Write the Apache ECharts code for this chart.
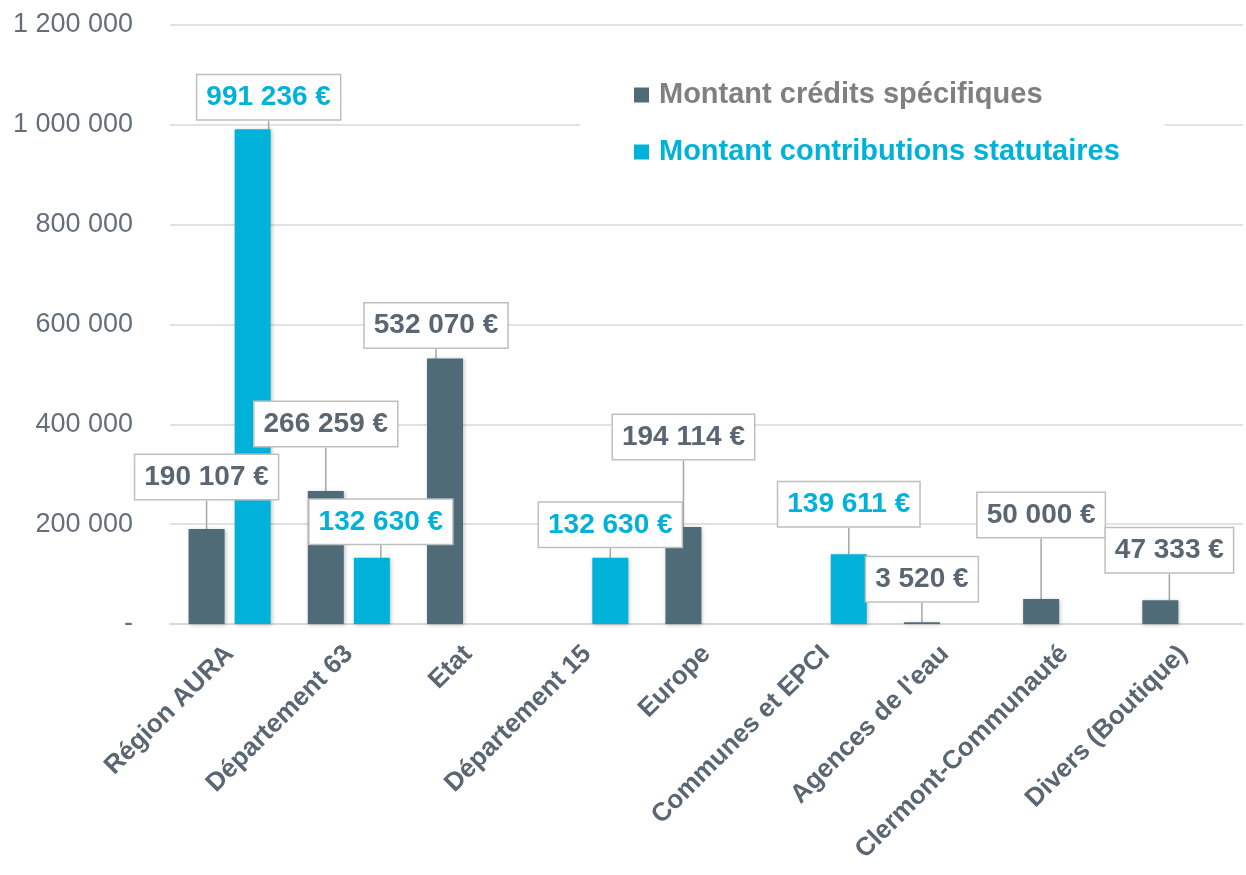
<!DOCTYPE html>
<html>
<head>
<meta charset="utf-8">
<script src="https://cdn.jsdelivr.net/npm/echarts@6/dist/echarts.min.js"></script>
<style>
  html, body { margin: 0; padding: 0; background: #fff; }
  #main { width: 1246px; height: 875px; }
</style>
</head>
<body>
<div id="main"></div>
<script>
var categories = ['Région AURA', 'Département 63', 'Etat', 'Département 15', 'Europe',
	'Communes et EPCI', "Agences de l'eau", 'Clermont-Communauté', 'Divers (Boutique)'];
var creditsSpecifiques = [190107, 266259, 532070, null, 194114, null, 3520, 50000, 47333];
var contributionsStatutaires = [991236, 132630, null, 132630, null, 139611, null, null, null];
var yTicks = [0, 200000, 400000, 600000, 800000, 1000000, 1200000];

// callout offsets (dx, dy) from the top of each bar
var creditsShift = [[0, -30], [0, -45], [-9, -11], null, [0, -68], null, [0, -21], [0, -62], [9, -28]];
var contribShift = [[16, -10], [9, -14], null, [0, -11], null, [0, -28], null, null, null];

var darkColor = '#4f6b78';
var cyanColor = '#00b2da';
var font = '"Liberation Sans", Arial, sans-serif';

function spaced(v) {
	return String(v).replace(/\B(?=(\d{3})+(?!\d))/g, ' ');
}

function makeLabel(color) {
	return {
		show: true,
		position: 'top',
		distance: 0,
		formatter: function (p) { return spaced(p.value) + ' €'; },
		color: color,
		fontFamily: font,
		fontWeight: 'bold',
		fontSize: 28,
		lineHeight: 30,
		backgroundColor: '#fff',
		borderColor: '#bfbfbf',
		borderWidth: 1.5,
		padding: [7, 9]
	};
}

function shiftFn(shifts) {
	return function (params) {
		var s = shifts[params.dataIndex] || [0, 0];
		return { dx: s[0], dy: s[1] };
	};
}

var dom = document.getElementById('main');
var myChart = echarts.init(dom);
var option = {
	backgroundColor: '#fff',
	animation: false,
	grid: {
		left: 170,
		right: 3,
		top: 25,
		bottom: 251,
		outerBoundsMode: 'none'
	},
	legend: {
		orient: 'vertical',
		left: 580,
		top: 60,
		padding: [20, 45, 20, 54],
		backgroundColor: '#fff',
		itemWidth: 15,
		itemHeight: 15,
		itemGap: 27,
		icon: 'rect',
		textStyle: {
			fontFamily: font,
			fontWeight: 'bold',
			fontSize: 29,
			lineHeight: 30,
			padding: [0, 0, 0, 5]
		},
		data: [
			{ name: 'Montant crédits spécifiques', textStyle: { color: '#808080' } },
			{ name: 'Montant contributions statutaires', textStyle: { color: cyanColor } }
		]
	},
	xAxis: {
		type: 'category',
		data: categories,
		axisTick: { show: false },
		axisLine: { lineStyle: { color: '#d9d9d9', width: 2 } },
		axisLabel: {
			interval: 0,
			rotate: 45,
			margin: 26,
			color: '#5b6673',
			fontFamily: font,
			fontWeight: 'bold',
			fontSize: 26
		}
	},
	yAxis: {
		type: 'value',
		min: yTicks[0],
		max: yTicks[yTicks.length - 1],
		interval: yTicks[1] - yTicks[0],
		axisLine: { show: false },
		axisTick: { show: false },
		splitLine: { lineStyle: { color: '#d9d9d9', width: 1.5 } },
		axisLabel: {
			margin: 37,
			color: '#656f7a',
			fontFamily: font,
			fontSize: 27,
			formatter: function (v) { return v === 0 ? '-' : spaced(v); }
		}
	},
	series: [{
		name: 'Montant crédits spécifiques',
		type: 'bar',
		data: creditsSpecifiques,
		barWidth: 36,
		barGap: '28%',
		itemStyle: {
			color: darkColor,
			shadowBlur: 4,
			shadowColor: 'rgba(0,0,0,0.25)',
			shadowOffsetX: 1,
			shadowOffsetY: 1
		},
		label: makeLabel('#5b6673'),
		labelLine: { show: true, length2: 0, lineStyle: { color: '#a6a6a6', width: 1.5 } },
		labelLayout: shiftFn(creditsShift)
	}, {
		name: 'Montant contributions statutaires',
		type: 'bar',
		data: contributionsStatutaires,
		barWidth: 36,
		barGap: '28%',
		itemStyle: {
			color: cyanColor,
			shadowBlur: 4,
			shadowColor: 'rgba(0,0,0,0.25)',
			shadowOffsetX: 1,
			shadowOffsetY: 1
		},
		label: makeLabel(cyanColor),
		labelLine: { show: true, length2: 0, lineStyle: { color: '#a6a6a6', width: 1.5 } },
		labelLayout: shiftFn(contribShift)
	}]
};
if (option && typeof option === "object") {
	myChart.setOption(option, true);
}
</script>
</body>
</html>
